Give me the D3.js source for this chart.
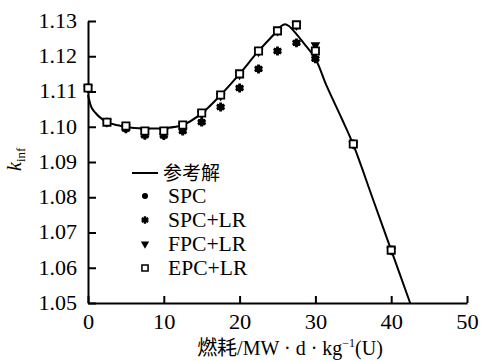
<!DOCTYPE html>
<meta charset="utf-8">
<style>
body { margin: 0; background: #fff; }
svg text { font-family: "Liberation Serif", "Noto Sans CJK SC", serif; fill: #000; }
.axis path, .axis line { stroke: #000; stroke-width: 2; }
.axis text { font-size: 20px; }
</style>
<svg width="481" height="361"></svg>
<script src="https://cdn.jsdelivr.net/npm/d3@7"></script>
<script>

// burnup points of the calculated cases
var burnup = [0, 2.5, 5, 7.5, 10, 12.5, 15, 17.5, 20, 22.5, 25, 27.5, 30, 35, 40];
var epcLR  = [1.111, 1.1013, 1.1002, 1.0988, 1.0988, 1.1005, 1.1039, 1.1090, 1.1150, 1.1215, 1.1272, 1.1289, 1.1215, 1.0951, 1.0650];
var fpcLR  = [1.111, 1.1013, 1.1000, 1.0986, 1.0986, 1.1003, 1.1037, 1.1088, 1.1148, 1.1213, 1.1272, 1.1288, 1.1232, 1.0951, 1.0650];
var spcLR  = [1.111, 1.1013, 1.0994, 1.0976, 1.0975, 1.0988, 1.1013, 1.1056, 1.1110, 1.1164, 1.1215, 1.1238, 1.1193, 1.0951, 1.0650];
var spc    = [1.111, 1.1013, 1.0994, 1.0976, 1.0975, 1.0988, 1.1013, 1.1056, 1.1110, 1.1164, 1.1215, 1.1238, 1.1193, 1.0951, 1.0650];

// reference solution (solid line)
var refBurnup = [0, 0.5, 1, 1.5, 2.5, 4, 5, 7.5, 10, 12.5, 15, 17.5, 20, 22.5, 25, 25.5, 26, 26.5, 27.5, 28.5, 30, 31.5, 33.5, 35, 37.5, 40, 42.5];
var refKinf   = [1.109, 1.1053, 1.1039, 1.1028, 1.1013, 1.1004, 1.0999, 1.0995, 1.0996, 1.1005, 1.1038, 1.1090, 1.1150, 1.1215, 1.1273, 1.1286, 1.1291, 1.1286, 1.1263, 1.1236, 1.1193, 1.1115, 1.1022, 1.0949, 1.0800, 1.0650, 1.0500];

var xTicks = [0, 10, 20, 30, 40, 50];
var yTicks = [1.05, 1.06, 1.07, 1.08, 1.09, 1.10, 1.11, 1.12, 1.13];

var legendNames = ["SPC", "SPC+LR", "FPC+LR", "EPC+LR"];

var svg = d3.select("svg"),
    margin = {top: 21, right: 14, bottom: 58, left: 88},
    width = +svg.attr("width") - margin.left - margin.right,
    height = +svg.attr("height") - margin.top - margin.bottom;

var x = d3.scaleLinear().domain([0, 50]).range([0, width]),
    y = d3.scaleLinear().domain([1.05, 1.13]).range([height, 0]);

var g = svg.append("g")
    .attr("transform", "translate(" + margin.left + "," + margin.top + ")");

g.append("g")
    .attr("class", "axis axis--x")
    .attr("transform", "translate(0," + height + ")")
    .call(d3.axisBottom(x).tickValues(xTicks).tickFormat(d3.format("d"))
      .tickSizeInner(-7).tickSizeOuter(0).tickPadding(12))
  .selectAll(".tick text")
    .attr("transform", "scale(1.12,1)");

g.append("g")
    .attr("class", "axis axis--y")
    .call(d3.axisLeft(y).tickValues(yTicks).tickFormat(d3.format(".2f"))
      .tickSizeInner(-8).tickSizeOuter(0).tickPadding(10))
  .selectAll(".tick text")
    .attr("transform", "scale(1.1,1)");

// reference line
var line = d3.line()
    .x(function(d, i) { return x(refBurnup[i]); })
    .y(function(d) { return y(d); })
    .curve(d3.curveCatmullRom.alpha(0.5));

g.append("path")
    .datum(refKinf)
    .attr("fill", "none")
    .attr("stroke", "#000")
    .attr("stroke-width", 2)
    .attr("d", line);

var symCircle = d3.symbol().type(d3.symbolCircle).size(40),
    symStar = d3.symbol().type(d3.symbolAsterisk).size(55),
    symTri = d3.symbol().type(d3.symbolTriangle).size(42),
    symSquare = d3.symbol().type(d3.symbolSquare).size(52);

function drawMarks(vals, kind) {
  var sel = g.append("g").selectAll("path")
    .data(vals)
    .enter().append("path")
      .attr("transform", function(d, i) {
        return "translate(" + x(burnup[i]) + "," + y(d) + ")" + (kind == "tri" ? " rotate(180)" : "");
      });
  styleMark(sel, kind);
}

function styleMark(sel, kind) {
  if (kind == "circle") sel.attr("d", symCircle).attr("fill", "#000");
  if (kind == "star") sel.attr("d", symStar).attr("fill", "#000").attr("stroke", "#000").attr("stroke-width", 2.8);
  if (kind == "tri") sel.attr("d", symTri).attr("fill", "#000");
  if (kind == "square") sel.attr("d", symSquare).attr("fill", "#fff").attr("stroke", "#000").attr("stroke-width", 1.8);
}

drawMarks(spc, "circle");
drawMarks(spcLR, "star");
drawMarks(fpcLR, "tri");
drawMarks(epcLR, "square");

// legend
var lg = svg.append("g").attr("transform", "translate(132,0)");
lg.append("line")
    .attr("x1", 0).attr("x2", 26).attr("y1", 173).attr("y2", 173)
    .attr("stroke", "#000").attr("stroke-width", 2);
lg.append("text")
    .attr("x", 31).attr("y", 180)
    .style("font-size", "19px")
    .text("参考解");

var kinds = ["circle", "star", "tri", "square"];
legendNames.forEach(function(name, i) {
  var cy = 196 + i * 24;
  var m = lg.append("path")
      .attr("transform", "translate(13," + cy + ") scale(0.85)" + (kinds[i] == "tri" ? " rotate(180)" : ""));
  styleMark(m, kinds[i]);
  lg.append("text")
      .attr("transform", "translate(36," + (cy + 7) + ") scale(1.08,1)")
      .style("font-size", "20px")
      .text(name);
});

// axis titles
var xl = svg.append("text")
    .attr("x", 290).attr("y", 355)
    .attr("text-anchor", "middle")
    .style("font-size", "20px");
xl.append("tspan").text("燃耗/MW · d · kg");
xl.append("tspan").attr("dy", -8).style("font-size", "12px").text("−1");
xl.append("tspan").attr("dy", 8).text("(U)");

var yl = svg.append("text")
    .attr("transform", "translate(21,171) rotate(-90)")
    .style("font-size", "20px");
yl.append("tspan").style("font-style", "italic").text("k");
yl.append("tspan").attr("dy", 4).style("font-size", "13px").text("inf");

</script>
